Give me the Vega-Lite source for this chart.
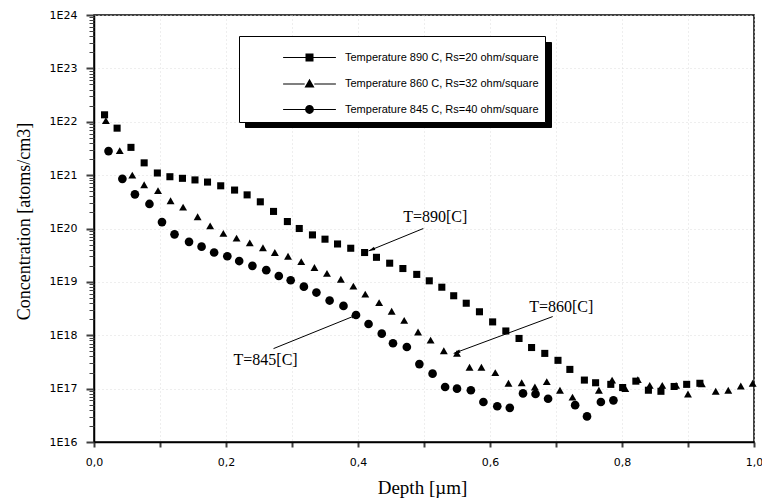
{
  "$schema": "https://vega.github.io/schema/vega-lite/v6.json",
  "width": 660,
  "height": 427,
  "autosize": {"type": "none"},
  "padding": {"left": 94, "top": 15, "right": 8, "bottom": 58},
  "background": "white",
  "datasets": {
    "profiles": [
      {"temp": "890", "depth": 0.016, "log10_conc": 22.13},
      {"temp": "890", "depth": 0.035, "log10_conc": 21.88},
      {"temp": "890", "depth": 0.056, "log10_conc": 21.52},
      {"temp": "890", "depth": 0.076, "log10_conc": 21.23},
      {"temp": "890", "depth": 0.096, "log10_conc": 21.04},
      {"temp": "890", "depth": 0.115, "log10_conc": 20.97},
      {"temp": "890", "depth": 0.134, "log10_conc": 20.94},
      {"temp": "890", "depth": 0.153, "log10_conc": 20.91},
      {"temp": "890", "depth": 0.172, "log10_conc": 20.87},
      {"temp": "890", "depth": 0.192, "log10_conc": 20.8},
      {"temp": "890", "depth": 0.213, "log10_conc": 20.72},
      {"temp": "890", "depth": 0.232, "log10_conc": 20.63},
      {"temp": "890", "depth": 0.252, "log10_conc": 20.5},
      {"temp": "890", "depth": 0.272, "log10_conc": 20.32},
      {"temp": "890", "depth": 0.293, "log10_conc": 20.13},
      {"temp": "890", "depth": 0.311, "log10_conc": 20.0},
      {"temp": "890", "depth": 0.331, "log10_conc": 19.88},
      {"temp": "890", "depth": 0.35, "log10_conc": 19.8},
      {"temp": "890", "depth": 0.369, "log10_conc": 19.71},
      {"temp": "890", "depth": 0.389, "log10_conc": 19.63},
      {"temp": "890", "depth": 0.41, "log10_conc": 19.55},
      {"temp": "890", "depth": 0.428, "log10_conc": 19.46},
      {"temp": "890", "depth": 0.448, "log10_conc": 19.35},
      {"temp": "890", "depth": 0.468, "log10_conc": 19.25},
      {"temp": "890", "depth": 0.489, "log10_conc": 19.14},
      {"temp": "890", "depth": 0.508, "log10_conc": 19.02},
      {"temp": "890", "depth": 0.527, "log10_conc": 18.9},
      {"temp": "890", "depth": 0.545, "log10_conc": 18.74},
      {"temp": "890", "depth": 0.564, "log10_conc": 18.6},
      {"temp": "890", "depth": 0.584, "log10_conc": 18.44},
      {"temp": "890", "depth": 0.604, "log10_conc": 18.25},
      {"temp": "890", "depth": 0.624, "log10_conc": 18.08},
      {"temp": "890", "depth": 0.644, "log10_conc": 17.94},
      {"temp": "890", "depth": 0.663, "log10_conc": 17.77},
      {"temp": "890", "depth": 0.683, "log10_conc": 17.66},
      {"temp": "890", "depth": 0.703, "log10_conc": 17.53},
      {"temp": "890", "depth": 0.721, "log10_conc": 17.36},
      {"temp": "890", "depth": 0.743, "log10_conc": 17.16},
      {"temp": "890", "depth": 0.76, "log10_conc": 17.11},
      {"temp": "890", "depth": 0.783, "log10_conc": 17.08},
      {"temp": "890", "depth": 0.801, "log10_conc": 17.02},
      {"temp": "890", "depth": 0.821, "log10_conc": 17.14},
      {"temp": "890", "depth": 0.84, "log10_conc": 16.97},
      {"temp": "890", "depth": 0.859, "log10_conc": 16.95},
      {"temp": "890", "depth": 0.879, "log10_conc": 17.04},
      {"temp": "890", "depth": 0.898, "log10_conc": 17.08},
      {"temp": "890", "depth": 0.918, "log10_conc": 17.1},
      {"temp": "860", "depth": 0.018, "log10_conc": 22.02},
      {"temp": "860", "depth": 0.039, "log10_conc": 21.46},
      {"temp": "860", "depth": 0.058, "log10_conc": 21.0},
      {"temp": "860", "depth": 0.076, "log10_conc": 20.82},
      {"temp": "860", "depth": 0.097, "log10_conc": 20.71},
      {"temp": "860", "depth": 0.116, "log10_conc": 20.52},
      {"temp": "860", "depth": 0.135, "log10_conc": 20.4},
      {"temp": "860", "depth": 0.157, "log10_conc": 20.22},
      {"temp": "860", "depth": 0.176, "log10_conc": 20.05},
      {"temp": "860", "depth": 0.196, "log10_conc": 19.91},
      {"temp": "860", "depth": 0.216, "log10_conc": 19.82},
      {"temp": "860", "depth": 0.236, "log10_conc": 19.73},
      {"temp": "860", "depth": 0.256, "log10_conc": 19.64},
      {"temp": "860", "depth": 0.274, "log10_conc": 19.55},
      {"temp": "860", "depth": 0.294, "log10_conc": 19.48},
      {"temp": "860", "depth": 0.314, "log10_conc": 19.38},
      {"temp": "860", "depth": 0.334, "log10_conc": 19.27},
      {"temp": "860", "depth": 0.353, "log10_conc": 19.16},
      {"temp": "860", "depth": 0.374, "log10_conc": 19.05},
      {"temp": "860", "depth": 0.393, "log10_conc": 18.92},
      {"temp": "860", "depth": 0.411, "log10_conc": 18.77},
      {"temp": "860", "depth": 0.432, "log10_conc": 18.61},
      {"temp": "860", "depth": 0.451, "log10_conc": 18.45},
      {"temp": "860", "depth": 0.47, "log10_conc": 18.28},
      {"temp": "860", "depth": 0.491, "log10_conc": 18.06},
      {"temp": "860", "depth": 0.51, "log10_conc": 17.91},
      {"temp": "860", "depth": 0.53, "log10_conc": 17.71},
      {"temp": "860", "depth": 0.55, "log10_conc": 17.66},
      {"temp": "860", "depth": 0.569, "log10_conc": 17.4},
      {"temp": "860", "depth": 0.587, "log10_conc": 17.4},
      {"temp": "860", "depth": 0.608, "log10_conc": 17.3},
      {"temp": "860", "depth": 0.628, "log10_conc": 17.1},
      {"temp": "860", "depth": 0.648, "log10_conc": 17.11},
      {"temp": "860", "depth": 0.668, "log10_conc": 17.03},
      {"temp": "860", "depth": 0.686, "log10_conc": 17.13},
      {"temp": "860", "depth": 0.706, "log10_conc": 16.97},
      {"temp": "860", "depth": 0.725, "log10_conc": 16.84},
      {"temp": "860", "depth": 0.765, "log10_conc": 16.97},
      {"temp": "860", "depth": 0.785, "log10_conc": 17.16},
      {"temp": "860", "depth": 0.805, "log10_conc": 17.0},
      {"temp": "860", "depth": 0.824, "log10_conc": 17.17},
      {"temp": "860", "depth": 0.842, "log10_conc": 17.06},
      {"temp": "860", "depth": 0.861, "log10_conc": 17.06},
      {"temp": "860", "depth": 0.882, "log10_conc": 17.06},
      {"temp": "860", "depth": 0.9, "log10_conc": 16.9},
      {"temp": "860", "depth": 0.921, "log10_conc": 17.09},
      {"temp": "860", "depth": 0.942, "log10_conc": 16.95},
      {"temp": "860", "depth": 0.961, "log10_conc": 16.97},
      {"temp": "860", "depth": 0.98, "log10_conc": 17.05},
      {"temp": "860", "depth": 0.998, "log10_conc": 17.1},
      {"temp": "845", "depth": 0.022, "log10_conc": 21.45},
      {"temp": "845", "depth": 0.043, "log10_conc": 20.93},
      {"temp": "845", "depth": 0.062, "log10_conc": 20.64},
      {"temp": "845", "depth": 0.084, "log10_conc": 20.46},
      {"temp": "845", "depth": 0.103, "log10_conc": 20.12},
      {"temp": "845", "depth": 0.122, "log10_conc": 19.89},
      {"temp": "845", "depth": 0.144, "log10_conc": 19.75},
      {"temp": "845", "depth": 0.163, "log10_conc": 19.66},
      {"temp": "845", "depth": 0.182, "log10_conc": 19.55},
      {"temp": "845", "depth": 0.202, "log10_conc": 19.48},
      {"temp": "845", "depth": 0.22, "log10_conc": 19.39},
      {"temp": "845", "depth": 0.24, "log10_conc": 19.3},
      {"temp": "845", "depth": 0.261, "log10_conc": 19.22},
      {"temp": "845", "depth": 0.28, "log10_conc": 19.11},
      {"temp": "845", "depth": 0.298, "log10_conc": 19.03},
      {"temp": "845", "depth": 0.318, "log10_conc": 18.91},
      {"temp": "845", "depth": 0.337, "log10_conc": 18.8},
      {"temp": "845", "depth": 0.357, "log10_conc": 18.65},
      {"temp": "845", "depth": 0.378, "log10_conc": 18.55},
      {"temp": "845", "depth": 0.397, "log10_conc": 18.38},
      {"temp": "845", "depth": 0.416, "log10_conc": 18.21},
      {"temp": "845", "depth": 0.436, "log10_conc": 18.03},
      {"temp": "845", "depth": 0.453, "log10_conc": 17.85},
      {"temp": "845", "depth": 0.474, "log10_conc": 17.78},
      {"temp": "845", "depth": 0.493, "log10_conc": 17.46},
      {"temp": "845", "depth": 0.513, "log10_conc": 17.28},
      {"temp": "845", "depth": 0.532, "log10_conc": 17.03},
      {"temp": "845", "depth": 0.55, "log10_conc": 17.0},
      {"temp": "845", "depth": 0.571, "log10_conc": 16.97},
      {"temp": "845", "depth": 0.59, "log10_conc": 16.75},
      {"temp": "845", "depth": 0.611, "log10_conc": 16.67},
      {"temp": "845", "depth": 0.63, "log10_conc": 16.64},
      {"temp": "845", "depth": 0.65, "log10_conc": 16.91},
      {"temp": "845", "depth": 0.669, "log10_conc": 16.9},
      {"temp": "845", "depth": 0.688, "log10_conc": 16.81},
      {"temp": "845", "depth": 0.729, "log10_conc": 16.69},
      {"temp": "845", "depth": 0.747, "log10_conc": 16.48},
      {"temp": "845", "depth": 0.768, "log10_conc": 16.75},
      {"temp": "845", "depth": 0.787, "log10_conc": 16.78}
    ],
    "legend_entries": [
      {"series": "Temperature 890 C, Rs=20 ohm/square"},
      {"series": "Temperature 860 C, Rs=32 ohm/square"},
      {"series": "Temperature 845 C, Rs=40 ohm/square"}
    ],
    "annotations": [
      {"label": "T=890[C]", "text_depth": 0.517, "text_log": 20.22, "from_depth": 0.499, "from_log": 20.0, "to_depth": 0.416, "to_log": 19.58},
      {"label": "T=860[C]", "text_depth": 0.708, "text_log": 18.53, "from_depth": 0.695, "from_log": 18.35, "to_depth": 0.545, "to_log": 17.66},
      {"label": "T=845[C]", "text_depth": 0.26, "text_log": 17.53, "from_depth": 0.272, "from_log": 17.75, "to_depth": 0.4, "to_log": 18.39}
    ]
  },
  "layer": [
    {
      "data": {"name": "profiles"},
      "mark": {"type": "point", "filled": true, "color": "black", "opacity": 1},
      "encoding": {
        "x": {
          "field": "depth", "type": "quantitative",
          "scale": {"domain": [0, 1], "nice": false, "zero": false},
          "axis": {
            "title": "Depth [µm]",
            "titleFont": "Liberation Serif", "titleFontSize": 19, "titleFontWeight": "normal", "titleColor": "black",
            "titleBaseline": "alphabetic", "titleY": 51, "titleX": 328, "titleAlign": "center",
            "values": [0, 0.1, 0.2, 0.3, 0.4, 0.5, 0.6, 0.7, 0.8, 0.9, 1.0],
            "labelExpr": "round(datum.value * 10) % 2 == 0 ? replace(format(datum.value, '.1f'), '.', ',') : ''",
            "labelFont": "DejaVu Sans", "labelFontSize": 11, "labelColor": "black", "labelPadding": 9,
            "labelFlush": false, "labelOverlap": false,
            "ticks": true, "tickSize": 5, "tickColor": "#404040", "tickWidth": 2,
            "domainColor": "black", "domainWidth": 1.5,
            "grid": true, "gridColor": "#dcdcdc", "gridDash": [1, 3], "gridWidth": 1
          }
        },
        "y": {
          "field": "log10_conc", "type": "quantitative",
          "scale": {"domain": [16, 24], "nice": false, "zero": false},
          "axis": {
            "orient": "left",
            "title": "Concentration [atoms/cm3]",
            "titleFont": "Liberation Serif", "titleFontSize": 18, "titleFontWeight": "normal", "titleColor": "black",
            "titleAngle": -90, "titleBaseline": "alphabetic", "titleAlign": "center", "titleX": -65, "titleY": 206,
            "values": [16, 17, 18, 19, 20, 21, 22, 23, 24],
            "labelExpr": "'1E' + round(datum.value)",
            "labelFont": "DejaVu Sans", "labelFontSize": 11, "labelColor": "black", "labelPadding": 9,
            "labelOverlap": false,
            "ticks": true, "tickSize": 8, "tickColor": "#404040", "tickWidth": 2,
            "domainColor": "black", "domainWidth": 1.5,
            "grid": true, "gridColor": "#dcdcdc", "gridDash": [1, 3], "gridWidth": 1
          }
        },
        "shape": {
          "field": "temp", "type": "nominal",
          "scale": {"domain": ["890", "860", "845"], "range": ["square", "triangle-up", "circle"]},
          "legend": null
        },
        "size": {
          "field": "temp", "type": "nominal",
          "scale": {"domain": ["890", "860", "845"], "range": [50, 75, 55]},
          "legend": null
        }
      }
    },
    {
      "data": {"name": "annotations"},
      "mark": {"type": "rule", "color": "black", "strokeWidth": 1},
      "encoding": {
        "x": {"field": "from_depth", "type": "quantitative"},
        "y": {
          "field": "from_log", "type": "quantitative",
          "axis": {
            "orient": "left", "title": null, "labels": false, "domain": false, "grid": false,
            "values": [16.301, 16.477, 16.602, 16.699, 16.778, 16.845, 16.903, 16.954,
                       17.301, 17.477, 17.602, 17.699, 17.778, 17.845, 17.903, 17.954,
                       18.301, 18.477, 18.602, 18.699, 18.778, 18.845, 18.903, 18.954,
                       19.301, 19.477, 19.602, 19.699, 19.778, 19.845, 19.903, 19.954,
                       20.301, 20.477, 20.602, 20.699, 20.778, 20.845, 20.903, 20.954,
                       21.301, 21.477, 21.602, 21.699, 21.778, 21.845, 21.903, 21.954,
                       22.301, 22.477, 22.602, 22.699, 22.778, 22.845, 22.903, 22.954,
                       23.301, 23.477, 23.602, 23.699, 23.778, 23.845, 23.903, 23.954],
            "ticks": true, "tickSize": 5, "tickColor": "#404040", "tickWidth": 1
          }
        },
        "x2": {"field": "to_depth"},
        "y2": {"field": "to_log"}
      }
    },
    {
      "data": {"name": "annotations"},
      "transform": [{"filter": "datum.label == 'T=890[C]'"}],
      "mark": {"type": "point", "shape": "M0,0L-0.6,2.2L0.6,2.2Z", "filled": true, "color": "black", "opacity": 1, "size": 36, "angle": 247.7},
      "encoding": {
        "x": {"field": "to_depth", "type": "quantitative"},
        "y": {"field": "to_log", "type": "quantitative", "axis": null}
      }
    },
    {
      "data": {"name": "annotations"},
      "transform": [{"filter": "datum.label == 'T=860[C]'"}],
      "mark": {"type": "point", "shape": "M0,0L-0.6,2.2L0.6,2.2Z", "filled": true, "color": "black", "opacity": 1, "size": 36, "angle": 249.7},
      "encoding": {
        "x": {"field": "to_depth", "type": "quantitative"},
        "y": {"field": "to_log", "type": "quantitative", "axis": null}
      }
    },
    {
      "data": {"name": "annotations"},
      "transform": [{"filter": "datum.label == 'T=845[C]'"}],
      "mark": {"type": "point", "shape": "M0,0L-0.6,2.2L0.6,2.2Z", "filled": true, "color": "black", "opacity": 1, "size": 36, "angle": 68},
      "encoding": {
        "x": {"field": "to_depth", "type": "quantitative"},
        "y": {"field": "to_log", "type": "quantitative", "axis": null}
      }
    },
    {
      "data": {"name": "annotations"},
      "mark": {"type": "text", "font": "Liberation Serif", "fontSize": 16, "color": "black", "align": "center", "baseline": "middle"},
      "encoding": {
        "x": {"field": "text_depth", "type": "quantitative"},
        "y": {"field": "text_log", "type": "quantitative", "axis": null},
        "text": {"field": "label", "type": "nominal"}
      }
    },
    {
      "data": {"name": "legend_entries"},
      "mark": {"type": "point", "filled": true, "opacity": 0},
      "encoding": {
        "color": {
          "field": "series", "type": "nominal",
          "scale": {
            "domain": ["Temperature 890 C, Rs=20 ohm/square", "Temperature 860 C, Rs=32 ohm/square", "Temperature 845 C, Rs=40 ohm/square"],
            "range": ["black", "black", "black"]
          },
          "legend": {
            "title": " ", "titleFontSize": 8, "titlePadding": 2, "titleColor": "black",
            "orient": "none", "legendX": 151, "legendY": 27, "direction": "vertical",
            "fillColor": "black", "strokeColor": "black", "padding": 6, "rowPadding": 12.5,
            "symbolType": "M-6.6,-0.15H-1V0.15H-6.6ZM1,-0.15H6.6V0.15H1ZM-1,-1H1V1H-1Z",
            "symbolSize": 64, "symbolOffset": 59, "labelOffset": 30,
            "labelFont": "Liberation Sans", "labelFontSize": 11, "labelColor": "black", "labelLimit": 400,
            "symbolFillColor": "black", "symbolStrokeColor": "black", "symbolOpacity": 1, "symbolStrokeWidth": 1,
            "zindex": 0
          }
        }
      }
    },
    {
      "data": {"name": "legend_entries"},
      "mark": {"type": "point", "filled": true, "color": "black", "opacity": 0},
      "encoding": {
        "shape": {
          "field": "series", "type": "nominal",
          "scale": {
            "domain": ["Temperature 890 C, Rs=20 ohm/square", "Temperature 860 C, Rs=32 ohm/square", "Temperature 845 C, Rs=40 ohm/square"],
            "range": [
              "M-6.6,-0.15H-1V0.15H-6.6ZM1,-0.15H6.6V0.15H1ZM-1,-1H1V1H-1Z",
              "M-6.6,-0.15H-1.2V0.15H-6.6ZM1.2,-0.15H6.6V0.15H1.2ZM0,-1.3L1.25,0.9H-1.25Z",
              "M-6.6,-0.15H-1V0.15H-6.6ZM1,-0.15H6.6V0.15H1ZM-1.1,0A1.1,1.1 0 1,1 1.1,0A1.1,1.1 0 1,1 -1.1,0Z"
            ]
          },
          "legend": {
            "title": " ", "titleFontSize": 8, "titlePadding": 2, "titleColor": "black",
            "orient": "none", "legendX": 145, "legendY": 21, "direction": "vertical",
            "fillColor": "white", "strokeColor": "black", "padding": 6, "rowPadding": 12.5,
            "symbolSize": 64, "symbolOffset": 59, "labelOffset": 30,
            "labelFont": "Liberation Sans", "labelFontSize": 11, "labelColor": "black", "labelLimit": 400,
            "symbolFillColor": "black", "symbolStrokeColor": "black", "symbolOpacity": 1, "symbolStrokeWidth": 1,
            "zindex": 1
          }
        }
      }
    }
  ],
  "resolve": {"scale": {"shape": "independent"}, "axis": {"y": "independent"}},
  "config": {
    "view": {"stroke": "black", "strokeWidth": 1.5},
    "axis": {"domainColor": "black", "labelColor": "black", "titleColor": "black"}
  }
}
